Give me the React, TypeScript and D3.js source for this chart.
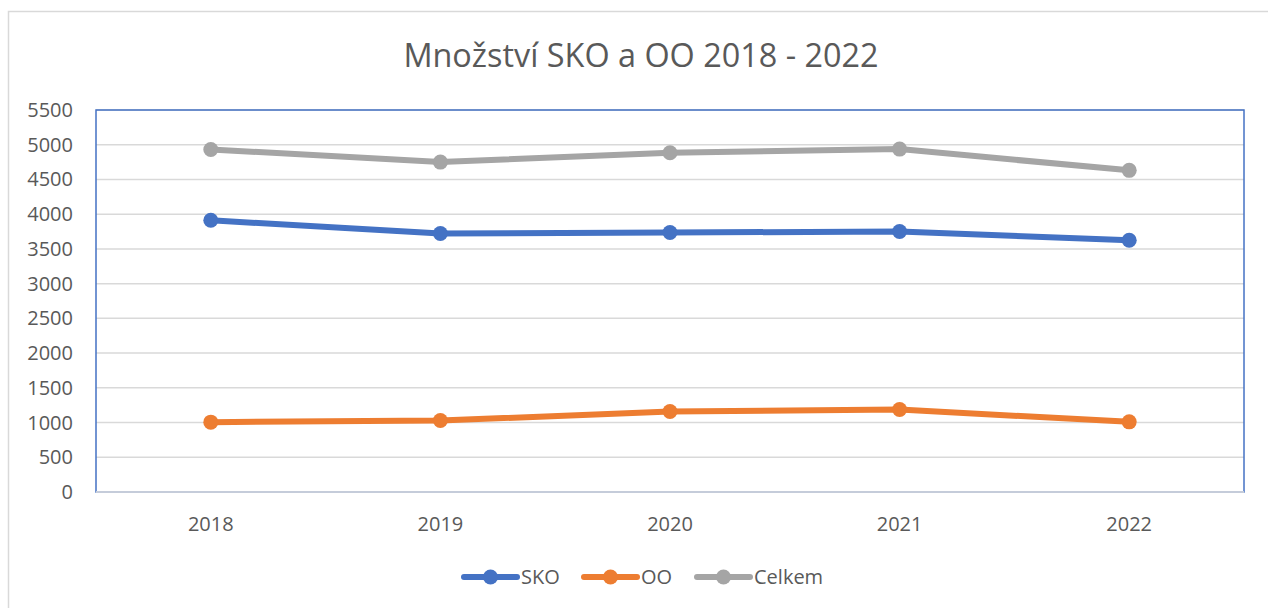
import * as d3 from "d3";

const WIDTH = 1268;
const HEIGHT = 608;
const PLOT = { left: 96, right: 1244, top: 110, bottom: 492 };

const years = ["2018", "2019", "2020", "2021", "2022"];
const sko = [3912, 3721, 3736, 3750, 3625];
const oo = [1006, 1029, 1158, 1187, 1010];
const celkem = [4932, 4750, 4885, 4937, 4631];
const yTicks = [0, 500, 1000, 1500, 2000, 2500, 3000, 3500, 4000, 4500, 5000, 5500];

const series = [
  { name: "SKO", values: sko, color: "#4472C4" },
  { name: "OO", values: oo, color: "#ED7D31" },
  { name: "Celkem", values: celkem, color: "#A5A5A5" },
];

const FONT = "'Open Sans', 'DejaVu Sans', sans-serif";
const TEXT = "#595959";

export default function App() {
  const x = d3.scalePoint().domain(years).range([PLOT.left, PLOT.right]).padding(0.5);
  const y = d3.scaleLinear().domain([0, 5500]).range([PLOT.bottom, PLOT.top]);
  const line = d3
    .line<number>()
    .x((_, i) => x(years[i]) ?? 0)
    .y((d) => y(d));

  // legend layout
  const legendX = [463, 583, 696];

  return (
    <svg width={WIDTH} height={HEIGHT} style={{ position: "absolute", left: 0, top: 0 }}>
      <rect x={0} y={0} width={WIDTH} height={HEIGHT} fill="#fff" />
      <rect x={8.5} y={11.5} width={1270} height={620} fill="#fff" stroke="#D9D9D9" strokeWidth={1.5} />

      <text
        x={641}
        y={66.5}
        textAnchor="middle"
        fontFamily={FONT}
        fontSize={32.4}
        fill={TEXT}
      >
        Množství SKO a OO 2018 - 2022
      </text>

      {/* gridlines */}
      {yTicks.map((t) => (
        <line
          key={t}
          x1={PLOT.left}
          x2={PLOT.right}
          y1={y(t)}
          y2={y(t)}
          stroke="#D9D9D9"
          strokeWidth={1.5}
        />
      ))}

      {/* plot area border */}
      <rect
        x={PLOT.left}
        y={PLOT.top}
        width={PLOT.right - PLOT.left}
        height={PLOT.bottom - PLOT.top}
        fill="none"
        stroke="#4472C4"
        strokeWidth={1.5}
      />
      <line
        x1={PLOT.left}
        x2={PLOT.right}
        y1={PLOT.bottom}
        y2={PLOT.bottom}
        stroke="#C5CCDA"
        strokeWidth={2}
      />

      {/* y labels */}
      {yTicks.map((t) => (
        <text
          key={t}
          x={73}
          y={y(t)}
          dy="0.35em"
          textAnchor="end"
          fontFamily={FONT}
          fontSize={20}
          fill={TEXT}
        >
          {t}
        </text>
      ))}

      {/* x labels */}
      {years.map((yr) => (
        <text
          key={yr}
          x={x(yr)}
          y={531}
          textAnchor="middle"
          fontFamily={FONT}
          fontSize={20}
          fill={TEXT}
        >
          {yr}
        </text>
      ))}

      {/* series */}
      {series.map((s) => (
        <g key={s.name}>
          <path
            d={line(s.values) ?? ""}
            fill="none"
            stroke={s.color}
            strokeWidth={6}
            strokeLinejoin="round"
            strokeLinecap="round"
          />
          {s.values.map((v, i) => (
            <circle key={i} cx={x(years[i])} cy={y(v)} r={7.5} fill={s.color} />
          ))}
        </g>
      ))}

      {/* legend */}
      {series.map((s, i) => (
        <g key={s.name} transform={`translate(${legendX[i]},577)`}>
          <line x1={1} x2={54} y1={0} y2={0} stroke={s.color} strokeWidth={6} strokeLinecap="round" />
          <circle cx={27.5} cy={0} r={7.5} fill={s.color} />
          <text
            x={58}
            y={0}
            dy="0.35em"
            fontFamily={FONT}
            fontSize={20}
            fill={TEXT}
          >
            {s.name}
          </text>
        </g>
      ))}
    </svg>
  );
}
